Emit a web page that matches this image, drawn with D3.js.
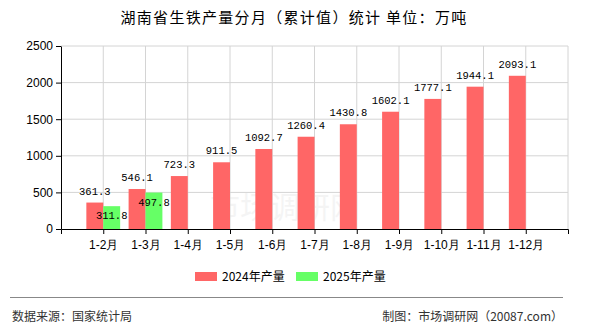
<!DOCTYPE html>
<html>
<head>
<meta charset="utf-8">
<script src="https://cdn.jsdelivr.net/npm/d3@7"></script>
<style>
  body { margin: 0; background: #fff; }
  svg { display: block; font-family: "Noto Sans CJK SC", sans-serif; }
  .grid line { stroke: #d4d4d4; }
  .axis path, .axis line { stroke: #000; }
  .axis text { font-size: 12px; fill: #000; }
  .val { font-family: "Liberation Mono", monospace; font-size: 10.5px; fill: #000; }
</style>
</head>
<body>
<div id="chart"></div>
<script>
// chart values
var categories = ["1-2月", "1-3月", "1-4月", "1-5月", "1-6月", "1-7月", "1-8月", "1-9月", "1-10月", "1-11月", "1-12月"];
var values2024 = [361.3, 546.1, 723.3, 911.5, 1092.7, 1260.4, 1430.8, 1602.1, 1777.1, 1944.1, 2093.1];
var values2025 = [311.8, 497.8];
var seriesNames = ["2024年产量", "2025年产量"];
var yTicks = [0, 500, 1000, 1500, 2000, 2500];

var width = 590, height = 330;
var margin = {top: 46, right: 22, bottom: 101, left: 61};
var plotW = width - margin.left - margin.right;
var plotH = height - margin.top - margin.bottom;

var svg = d3.select("#chart").append("svg")
    .attr("width", width)
    .attr("height", height);

// title
svg.append("text")
    .attr("x", 294).attr("y", 23)
    .attr("text-anchor", "middle")
    .style("font-size", "15px")
    .style("letter-spacing", "1.3px")
    .text("湖南省生铁产量分月（累计值）统计 单位：万吨");

// faint watermark
svg.append("text")
    .attr("x", 285).attr("y", 218)
    .attr("text-anchor", "middle")
    .style("font-size", "30px")
    .style("fill", "#000")
    .style("opacity", 0.04)
    .text("市场调研网");

var g = svg.append("g")
    .attr("transform", "translate(" + margin.left + "," + margin.top + ")");

// scales
var x = d3.scalePoint().domain(categories).range([0, plotW]).padding(1);
var y = d3.scaleLinear().domain([0, 2500]).range([plotH, 0]);
var step = x.step();
var barW = step * 0.4;

// grid lines
g.append("g").attr("class", "grid")
    .selectAll("line").data(yTicks.slice(1)).enter().append("line")
    .attr("x1", 0).attr("x2", plotW)
    .attr("y1", function(d) { return y(d); })
    .attr("y2", function(d) { return y(d); });
g.append("g").attr("class", "grid")
    .selectAll("line").data(categories).enter().append("line")
    .attr("x1", function(d) { return x(d); })
    .attr("x2", function(d) { return x(d); })
    .attr("y1", 0).attr("y2", plotH);
g.append("line")
    .attr("x1", plotW).attr("x2", plotW).attr("y1", 0).attr("y2", plotH)
    .style("stroke", "#d4d4d4");

// bars 2024
g.selectAll(".bar24").data(values2024).enter().append("rect")
    .attr("class", "bar24")
    .attr("x", function(d, i) { return x(categories[i]) - barW; })
    .attr("y", function(d) { return y(d); })
    .attr("width", barW)
    .attr("height", function(d) { return plotH - y(d); })
    .attr("fill", "#ff6666");

// bars 2025
g.selectAll(".bar25").data(values2025).enter().append("rect")
    .attr("class", "bar25")
    .attr("x", function(d, i) { return x(categories[i]); })
    .attr("y", function(d) { return y(d); })
    .attr("width", barW)
    .attr("height", function(d) { return plotH - y(d); })
    .attr("fill", "#66ff66");

// value labels
g.selectAll(".lab24").data(values2024).enter().append("text")
    .attr("class", "val")
    .attr("x", function(d, i) { return x(categories[i]) - barW / 2; })
    .attr("y", function(d) { return y(d) - 8; })
    .attr("text-anchor", "middle")
    .text(function(d) { return d.toFixed(1); });
g.selectAll(".lab25").data(values2025).enter().append("text")
    .attr("class", "val")
    .attr("x", function(d, i) { return x(categories[i]) + barW / 2; })
    .attr("y", function(d) { return y(d) + 13; })
    .attr("text-anchor", "middle")
    .text(function(d) { return d.toFixed(1); });

// axes
g.append("g").attr("class", "axis")
    .attr("transform", "translate(0," + plotH + ")")
    .call(d3.axisBottom(x).tickSize(5).tickSizeOuter(5).tickPadding(6));
g.append("g").attr("class", "axis")
    .call(d3.axisLeft(y).tickValues(yTicks).tickFormat(d3.format("d"))
        .tickSize(5).tickSizeOuter(0).tickPadding(3));

// legend
var legend = svg.append("g").attr("transform", "translate(195,272)");
var colors = ["#ff6666", "#66ff66"];
seriesNames.forEach(function(name, i) {
    var lg = legend.append("g").attr("transform", "translate(" + (i * 101) + ",0)");
    lg.append("rect").attr("width", 22).attr("height", 9).attr("fill", colors[i]);
    lg.append("text").attr("x", 27).attr("y", 9)
        .style("font-size", "12px").text(name);
});

// footer
svg.append("line")
    .attr("x1", 10).attr("x2", 563).attr("y1", 297.5).attr("y2", 297.5)
    .style("stroke", "#888");
svg.append("text").attr("x", 12).attr("y", 321)
    .style("font-size", "12px").style("fill", "#333")
    .text("数据来源：国家统计局");
svg.append("text").attr("x", 563).attr("y", 321)
    .attr("text-anchor", "end")
    .style("font-size", "12px").style("fill", "#333")
    .text("制图：市场调研网（20087.com）");
</script>
</body>
</html>
